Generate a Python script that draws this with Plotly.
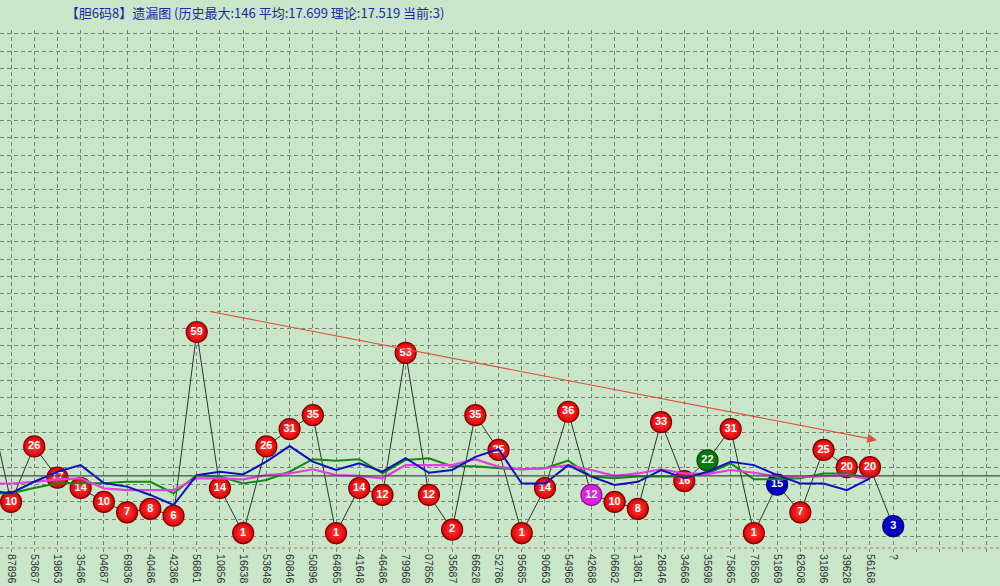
import plotly.graph_objects as go

# ---------------- data ----------------
categories = ["87896", "53687", "19863", "35486", "04687", "69836", "40486", "42386",
              "56861", "10856", "16638", "53648", "60846", "50896", "64865", "41648",
              "46486", "79968", "07856", "35687", "66628", "52786", "95685", "90663",
              "54968", "42688", "06682", "13861", "26846", "34668", "35698", "75865",
              "78586", "51869", "62608", "31896", "39628", "56168", "?"]

miss_values = [10, 26, 17, 14, 10, 7, 8, 6, 59, 14, 1, 26, 31, 35, 1, 14, 12, 53, 12, 2,
               35, 25, 1, 14, 36, 12, 10, 8, 33, 16, 22, 31, 1, 15, 7, 25, 20, 20, 3]

# value of the period before the first visible one (line enters from the left edge)
prev_value = 40
prev_blue = 13.2
prev_green = 12.4
prev_magenta = 15.3

blue_ma = [12.5, 15.8, 18.7, 20.6, 15.4, 14.4, 12.0, 9.1, 17.7, 18.7,
           17.9, 21.6, 26.1, 21.6, 19.2, 21.1, 18.7, 22.6, 18.4, 19.2,
           23.0, 25.2, 15.3, 15.3, 20.6, 17.3, 14.9, 15.8, 19.2, 16.8,
           18.7, 21.6, 20.6, 17.7, 15.3, 15.3, 13.4, 16.8]
green_ma = [12.5, 14.0, 15.4, 15.4, 15.4, 15.8, 15.8, 12.5, 17.7, 17.3,
            15.3, 16.3, 18.7, 22.3, 21.9, 22.3, 18.2, 22.1, 22.6, 20.3,
            20.3, 19.7, 19.4, 19.7, 21.9, 17.3, 16.8, 17.3, 17.3, 17.3,
            18.2, 21.1, 16.5, 16.5, 16.8, 18.2, 18.2, 16.8]
magenta_ma = [15.3, 15.8, 16.5, 16.8, 13.9, 13.4, 13.4, 13.4, 16.8, 16.8,
              16.5, 17.7, 18.2, 19.4, 17.7, 17.5, 16.8, 20.6, 20.6, 20.6,
              22.3, 20.1, 19.4, 19.7, 20.6, 19.2, 17.5, 18.2, 19.4, 18.2,
              18.0, 19.2, 18.4, 17.3, 17.1, 17.3, 17.7, 16.5]

theory_avg = 17.519
hist_max = 146
extra_slots = 4  # empty grid columns right of "?"

# trend arrow (from -> to), in category index / value units
trend_start = (8.5, 65.0)
trend_end = (37.3, 27.8)

title_text = "【胆6码8】遗漏图 (历史最大:146 平均:17.699 理论:17.519 当前:3)"

# ---------------- styles ----------------
special_colors = {25: "#e020e0", 30: "#0a7a0a", 33: "#0000c8", 38: "#0000c8"}
special_edges = {25: "#901090", 30: "#064a06", 33: "#00006a", 38: "#00006a"}
red_ball = "#e00000"
red_edge = "#7a0000"
bg = "#c9e6c9"
grid_col = "#768676"

n = len(categories)
xs = list(range(n))
ball_colors = [special_colors.get(i, red_ball) for i in xs]
ball_edges = [special_edges.get(i, red_edge) for i in xs]
ball_grad = ["#ff4040" if i not in special_colors else special_colors[i] for i in xs]

fig = go.Figure()

# black miss line
fig.add_trace(go.Scatter(
    x=[-1] + xs, y=[prev_value] + miss_values, mode="lines",
    line=dict(color="#303030", width=1), hoverinfo="skip", showlegend=False))

# theory line
fig.add_shape(type="line", xref="paper", x0=0, x1=1, yref="y",
              y0=theory_avg, y1=theory_avg, line=dict(color="#404840", width=1.3))

# balls
fig.add_trace(go.Scatter(
    x=xs, y=miss_values, mode="markers+text",
    text=[str(v) for v in miss_values], textposition="middle center",
    textfont=dict(color="white", size=11, family="Arial, Liberation Sans", weight="bold"),
    marker=dict(size=21, color=ball_colors, line=dict(color=ball_edges, width=1.2),
                gradient=dict(type="radial", color=ball_grad)),
    showlegend=False, hoverinfo="skip", cliponaxis=False))

# moving averages (drawn on top)
ma_x = [-1] + xs[:len(blue_ma)]
fig.add_trace(go.Scatter(x=ma_x, y=[prev_green] + green_ma, mode="lines",
                         line=dict(color="#108a10", width=2), showlegend=False, hoverinfo="skip"))
fig.add_trace(go.Scatter(x=ma_x, y=[prev_magenta] + magenta_ma, mode="lines",
                         line=dict(color="#e040e0", width=2.2), showlegend=False, hoverinfo="skip"))
fig.add_trace(go.Scatter(x=ma_x, y=[prev_blue] + blue_ma, mode="lines",
                         line=dict(color="#1010c0", width=2), showlegend=False, hoverinfo="skip"))

# trend arrow
fig.add_annotation(x=trend_end[0], y=trend_end[1], ax=trend_start[0], ay=trend_start[1],
                   xref="x", yref="y", axref="x", ayref="y", text="",
                   showarrow=True, arrowhead=2, arrowsize=1.6, arrowwidth=1.2,
                   arrowcolor="#e2503c")

# bottom dotted axis line
fig.add_shape(type="line", xref="paper", x0=0, x1=1, yref="paper", y0=0, y1=0,
              line=dict(color="#c0704a", width=1.2, dash="dot"))

tickvals = list(range(n + extra_slots))
ticktext = categories + [""] * extra_slots

fig.update_layout(
    width=1000, height=586,
    margin=dict(l=0, r=0, t=30, b=38),
    paper_bgcolor=bg, plot_bgcolor=bg,
    title=dict(text=title_text, x=0.255, xanchor="center", y=1 - 13 / 586, yanchor="middle",
               font=dict(family="Noto Sans CJK SC, Arial", size=13, color="#1a2aa8")),
    xaxis=dict(range=[-0.474, 42.6], tickmode="array", tickvals=tickvals, ticktext=ticktext,
               tickangle=90, tickfont=dict(family="Arial, Liberation Sans", size=10.5, color="#303030"),
               showgrid=True, gridcolor=grid_col, griddash="4px,3px", gridwidth=1,
               ticks="outside", ticklen=3, tickcolor="#808080", zeroline=False, showline=False),
    yaxis=dict(range=[-3.3, hist_max + 0.1], tickmode="linear", tick0=0, dtick=5,
               showticklabels=False, showgrid=True, gridcolor=grid_col, griddash="4px,3px",
               gridwidth=1, zeroline=False, showline=False, ticks=""),
)

fig.write_html("out.html")
